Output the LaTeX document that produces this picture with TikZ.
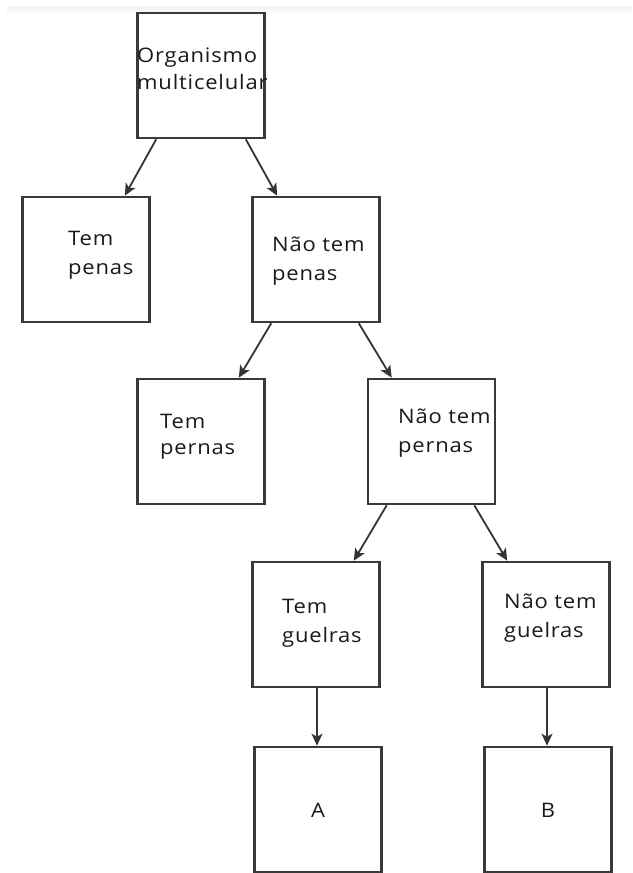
\documentclass[tikz,border=0pt]{standalone}
\usepackage{fontspec}
\setmainfont{Open Sans}[FakeStretch=1.1,LetterSpace=4]
\usetikzlibrary{arrows.meta}
\definecolor{boxline}{HTML}{3A3A3A}
\definecolor{txt}{HTML}{1A1A1A}
\begin{document}
\begin{tikzpicture}[x=1pt,y=-1pt,
  box/.style={draw=boxline,line width=2.6pt,fill=white,minimum width=127pt,minimum height=125pt,inner sep=0pt},
  lbl/.style={anchor=base west,inner sep=0pt,align=left,text=txt,font=\fontsize{20}{28.5}\selectfont},
  conn/.style={draw=boxline!90!black,line width=1.8pt,-{Stealth[length=12pt,width=11pt,inset=3pt]}}]
\useasboundingbox (0,0) rectangle (632,873);
\shade[top color=gray!10,bottom color=white] (7,6) rectangle (632,16);
% boxes
\node[box] (o) at (201,75.5) {};
\node[box] (tp) at (86,259.5) {};
\node[box] (ntp) at (316,259.5) {};
\node[box] (tpe) at (201,441.5) {};
\node[box] (ntpe) at (431.5,441.5) {};
\node[box] (tg) at (316,624.5) {};
\node[box] (ntg) at (546,624.5) {};
\node[box] (a) at (318,809.5) {};
\node[box] (b) at (548,809.5) {};
% labels (anchor = baseline of the last line)
\node[lbl,font=\fontsize{20}{27}\selectfont] (lo) at (137,89) {Organismo\\multicelular};
\node[lbl] (ltp) at (68,274) {Tem\\penas};
\node[lbl] (lntp) at (272,280) {Não tem\\penas};
\node[lbl,font=\fontsize{20}{26}\selectfont] (ltpe) at (160,454) {Tem\\pernas};
\node[lbl] (lntpe) at (398,452) {Não tem\\pernas};
\node[lbl] (ltg) at (282,642) {Tem\\guelras};
\node[lbl] (lntg) at (504,637) {Não tem\\guelras};
\node[lbl,anchor=base] (la) at (318,817) {A};
\node[lbl,anchor=base] (lb) at (548,817) {B};
% connectors
\draw[conn] ([xshift=20pt]o.south west) -- ([xshift=-26pt]tp.north east);
\draw[conn] ([xshift=-20pt]o.south east) -- ([xshift=26pt]ntp.north west);
\draw[conn] ([xshift=20pt]ntp.south west) -- ([xshift=-27pt]tpe.north east);
\draw[conn] ([xshift=-22pt]ntp.south east) -- ([xshift=25pt]ntpe.north west);
\draw[conn] ([xshift=20pt]ntpe.south west) -- ([xshift=-27pt]tg.north east);
\draw[conn] ([xshift=-22pt]ntpe.south east) -- ([xshift=26pt]ntg.north west);
\draw[conn] ([xshift=1pt]tg.south) -- ([xshift=-1pt]a.north);
\draw[conn] ([xshift=1pt]ntg.south) -- ([xshift=-1pt]b.north);
\end{tikzpicture}
\end{document}
